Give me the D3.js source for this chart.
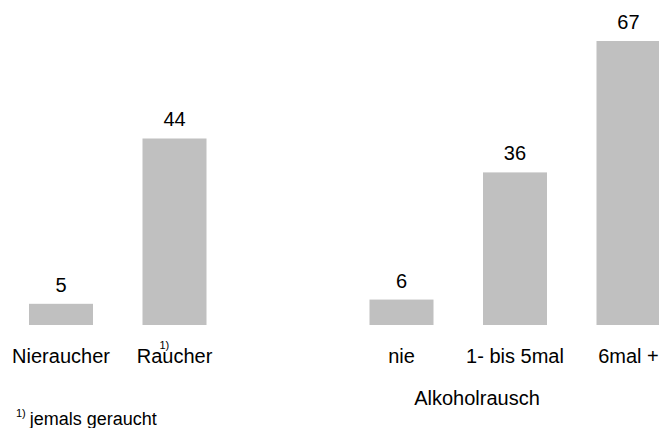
<!DOCTYPE html>
<html>
<head>
<meta charset="utf-8">
<script src="https://cdn.jsdelivr.net/npm/d3@7"></script>
<style>
  html, body { margin: 0; padding: 0; background: #fff; }
  svg { display: block; font-family: "Liberation Sans", Arial, sans-serif; }
</style>
</head>
<body>
<svg id="chart" width="659" height="428"></svg>
<script>
// Bar categories: smoking status, then frequency of alcohol intoxication
const categories = ["Nieraucher", "Raucher", "nie", "1- bis 5mal", "6mal +"];
const values = [5, 44, 6, 36, 67];
const groupTitle = "Alkoholrausch";
const footnoteMark = "1)";
const footnoteText = "jemals geraucht";

const svg = d3.select("#chart");
const baseY = 325;
const barColor = "#c0c0c0";
const labelSize = 20;

// An empty slot separates the two groups of bars
const GAP = "__gap";
const slots = [categories[0], categories[1], GAP, categories[2], categories[3], categories[4]];

const x = d3.scaleBand()
  .domain(slots)
  .range([29, 660.5])
  .paddingInner(0.436)
  .paddingOuter(0);

const y = d3.scaleLinear()
  .domain([0, 67])
  .range([baseY, 41]);

const data = categories.map((c, i) => ({ cat: c, val: values[i] }));

// Bars
svg.append("g")
  .selectAll("rect")
  .data(data)
  .join("rect")
  .attr("x", d => x(d.cat))
  .attr("y", d => y(d.val))
  .attr("width", x.bandwidth())
  .attr("height", d => y(0) - y(d.val))
  .attr("fill", barColor);

// Value labels above the bars
svg.append("g")
  .selectAll("text")
  .data(data)
  .join("text")
  .attr("x", d => x(d.cat) + x.bandwidth() / 2)
  .attr("y", d => y(d.val) - 12)
  .attr("text-anchor", "middle")
  .attr("font-size", labelSize)
  .attr("fill", "#000")
  .text(d => d.val);

// Category axis (labels only)
const axis = d3.axisBottom(x)
  .tickSize(0)
  .tickPadding(24)
  .tickFormat(d => d === GAP ? "" : d);

const gAxis = svg.append("g")
  .attr("transform", `translate(0,${baseY})`)
  .call(axis);
gAxis.select(".domain").remove();
gAxis.selectAll(".tick text")
  .attr("font-size", labelSize)
  .attr("font-family", "Liberation Sans, Arial, sans-serif")
  .attr("fill", "#000")
  .attr("dy", 0)
  .attr("y", 362.5 - baseY);

// Footnote reference on "Raucher"
const rx = x(categories[1]) + x.bandwidth() / 2;
svg.append("text")
  .attr("x", rx - 15)
  .attr("y", 349)
  .attr("font-size", 11)
  .attr("fill", "#000")
  .text(footnoteMark);

// Group title below the alcohol categories
svg.append("text")
  .attr("x", 477)
  .attr("y", 405)
  .attr("text-anchor", "middle")
  .attr("font-size", labelSize)
  .attr("fill", "#000")
  .text(groupTitle);

// Footnote
const fn = svg.append("text")
  .attr("x", 16)
  .attr("y", 425)
  .attr("fill", "#000");
fn.append("tspan")
  .attr("font-size", 11)
  .attr("dy", -8)
  .text(footnoteMark);
fn.append("tspan")
  .attr("font-size", 18)
  .attr("dy", 8)
  .attr("dx", 4)
  .text(footnoteText);
</script>
</body>
</html>
